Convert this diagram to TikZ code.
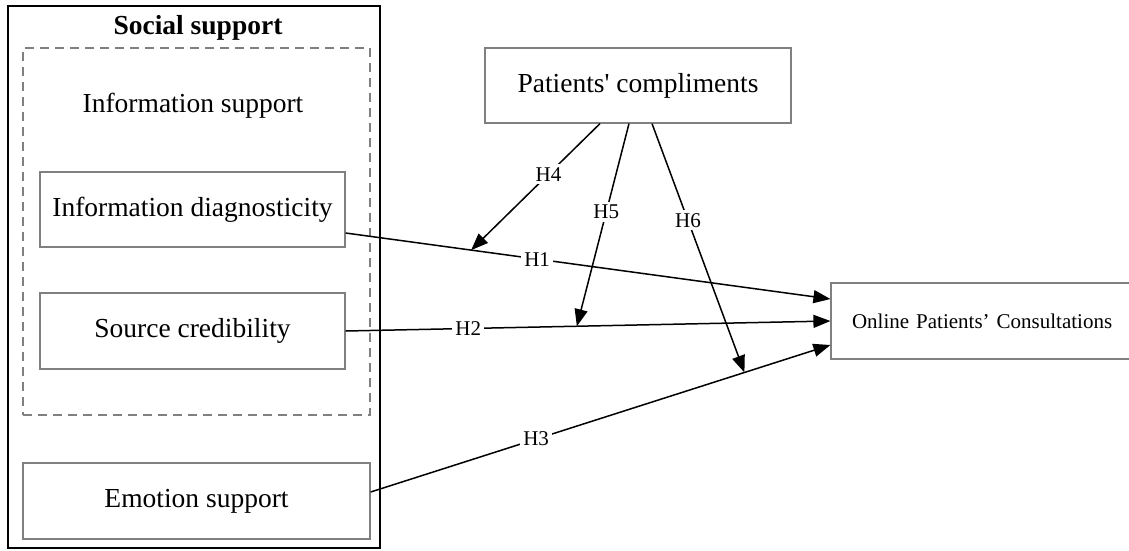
\documentclass[tikz,border=0pt]{standalone}
\usepackage{fontspec}
\setmainfont{Liberation Serif}
\newfontfamily\rawserif{Liberation Serif}
\usetikzlibrary{arrows.meta,calc}
\begin{document}
\begin{tikzpicture}[x=1pt,y=-1pt,
  box/.style={draw=black!50,line width=1.2pt,rectangle,inner sep=0pt,font=\fontsize{27.5}{32}\selectfont},
  lbl/.style={fill=white,inner sep=3pt,font=\fontsize{21}{24}\selectfont},
  conn/.style={line width=1.5pt,-{Triangle[length=17pt,width=13pt]}}]
\useasboundingbox (0,0) rectangle (1129,550);
\node[draw=black,line width=1.6pt,minimum width=372pt,minimum height=542pt,inner sep=0pt] (outer) at (194,277) {};
\node[font=\bfseries\fontsize{27.5}{32}\selectfont] (ttl) at (198,28) {Social support};
\node[draw=black!50,dashed,dash pattern=on 9pt off 6pt,line width=1.2pt,minimum width=347pt,minimum height=367pt,inner sep=0pt] (dbox) at (196.5,231.5) {};
\node[font=\fontsize{27.5}{32}\selectfont] (isup) at (193,106) {Information support};
\node[box,minimum width=305pt,minimum height=75pt] (d1) at (192.5,209.5) {Information diagnosticity};
\node[box,minimum width=305pt,minimum height=76pt] (d2) at (192.5,331) {Source credibility};
\node[box,minimum width=347pt,minimum height=76pt] (d3) at (196.5,501) {Emotion support};
\node[box,minimum width=306pt,minimum height=75pt] (pc) at (638,85.5) {{\rawserif Patients' compliments}};
\node[box,minimum width=300pt,minimum height=76pt,font=\fontsize{21}{24}\selectfont,text width=300pt,align=left] (oc) at (981,321) {\hspace*{21pt}Online Patients’ Consultations};
% main paths
\coordinate (s1) at ([yshift=-23.5pt]d1.east);
\coordinate (e1) at ([yshift=22pt]oc.west);
\coordinate (s2) at (d2.east);
\coordinate (e2) at (oc.west);
\coordinate (s3) at ([yshift=9pt]d3.east);
\coordinate (e3) at ([yshift=-24pt]oc.west);
\draw[conn] (s1) -- node[lbl,pos=0.395] {H1} (e1);
\draw[conn] (s2) -- node[lbl,pos=0.253] {H2} (e2);
\draw[conn] (s3) -- node[lbl,pos=0.36] {H3} (e3);
% moderators
\coordinate (p4) at ($(s1)!0.259!(e1)$);
\coordinate (p5) at ($(s2)!0.477!(e2)$);
\coordinate (p6) at ($(s3)!0.813!(e3)$);
\draw[conn] ([xshift=-38pt]pc.south) -- node[lbl,pos=0.4] {H4} (p4);
\draw[conn] ([xshift=-9pt]pc.south) -- node[lbl,pos=0.436] {H5} (p5);
\draw[conn] ([xshift=14pt]pc.south) -- node[lbl,pos=0.389] {H6} (p6);
\end{tikzpicture}
\end{document}
